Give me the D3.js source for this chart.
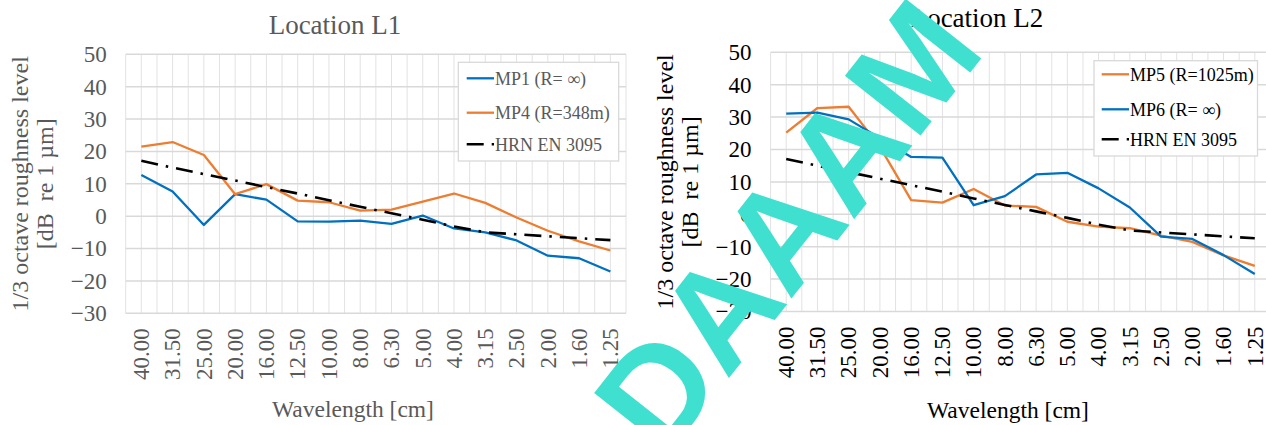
<!DOCTYPE html>
<html>
<head>
<meta charset="utf-8">
<script src="https://cdn.jsdelivr.net/npm/d3@7"></script>
<style>
  html, body { margin: 0; padding: 0; background: #fff; overflow: hidden; }
  svg { display: block; }
</style>
</head>
<body>
<svg id="fig" width="1266" height="425"></svg>
<script>
// One-third octave wavelength bands [cm]
const categories = ["40.00","31.50","25.00","20.00","16.00","12.50","10.00","8.00",
                    "6.30","5.00","4.00","3.15","2.50","2.00","1.60","1.25"];
const yTickValues = [50, 40, 30, 20, 10, 0, -10, -20, -30];

// Location L1 roughness levels [dB re 1 µm]
const mp1 = [12.7, 7.6, -2.7, 6.8, 5.1, -1.6, -1.7, -1.4, -2.4, 0.2, -3.8, -5.0, -7.5, -12.2, -13.0, -17.1];
const mp4 = [21.5, 22.9, 18.9, 6.8, 9.9, 4.8, 4.3, 1.7, 2.0, 4.5, 7.0, 4.1, -0.4, -4.5, -7.8, -10.6];

// Location L2 roughness levels [dB re 1 µm]
const mp5 = [25.2, 32.8, 33.2, 20.8, 4.4, 3.6, 7.8, 2.7, 2.3, -2.3, -3.8, -4.3, -6.6, -8.5, -12.7, -15.9];
const mp6 = [31.1, 31.4, 29.3, 23.5, 17.7, 17.5, 2.8, 5.6, 12.3, 12.8, 8.0, 2.1, -6.9, -7.6, -12.6, -18.4];

// Limit spectrum HRN EN 3095
const hrn = [17.1, 15.0, 13.0, 11.0, 9.0, 7.0, 4.9, 2.9, 0.9, -1.1, -3.2, -5.0, -5.6, -6.2, -6.8, -7.4];

const BLUE = "#0070C0", ORANGE = "#ED7D31", BLACK = "#000000";
const GRID = "#D9D9D9";
const SERIF = "'Liberation Serif', 'Times New Roman', serif";
const DASHDOT = "17,8,2.5,8";

const panels = [
  {
    title: "Location L1", textColor: "#595959",
    plot: { x0: 125.7, x1: 626, y0: 54.3, y1: 313.3 },
    titlePos: [335, 34], xTitlePos: [353, 417], yTitleX: [28, 52.5],
    series: [
      { name: "MP1 (R= \u221E)", values: mp1, color: BLUE },
      { name: "MP4 (R=348m)", values: mp4, color: ORANGE },
      { name: "HRN EN 3095", values: hrn, color: BLACK, dash: DASHDOT }
    ],
    legend: { x0: 458.3, x1: 618.7, y0: 62.3, y1: 161, rows: [78.3, 112.7, 144.3], line: [466.7, 494], textX: 495 }
  },
  {
    title: "Location L2", textColor: "#000000",
    plot: { x0: 770.6, x1: 1270.4, y0: 52.3, y1: 311.5 },
    titlePos: [977, 26.7], xTitlePos: [1008, 418], yTitleX: [673, 697.5],
    series: [
      { name: "MP5 (R=1025m)", values: mp5, color: ORANGE },
      { name: "MP6 (R= \u221E)", values: mp6, color: BLUE },
      { name: "HRN EN 3095", values: hrn, color: BLACK, dash: DASHDOT }
    ],
    legend: { x0: 1094, x1: 1257.5, y0: 60.7, y1: 156, rows: [74.3, 109.3, 139.3], line: [1101.7, 1129], textX: 1130 }
  }
];

const svg = d3.select("#fig");
svg.append("rect").attr("width", 1266).attr("height", 425).attr("fill", "#fff");

panels.forEach(p => {
  const g = svg.append("g");
  const x = d3.scaleBand().domain(categories).range([p.plot.x0, p.plot.x1]).paddingInner(0).paddingOuter(0);
  const y = d3.scaleLinear().domain([-30, 50]).range([p.plot.y1, p.plot.y0]);
  const cx = d => x(d) + x.bandwidth() / 2;

  // vertical gridlines at band edges and band centres
  const vLines = [];
  categories.forEach(c => { vLines.push(x(c)); vLines.push(cx(c)); });
  vLines.push(x(categories[categories.length - 1]) + x.bandwidth());
  g.append("g").selectAll("line").data(vLines).join("line")
    .attr("x1", d => d).attr("x2", d => d)
    .attr("y1", p.plot.y0).attr("y2", p.plot.y1)
    .attr("stroke", "#E2E2E2").attr("stroke-width", 1);

  // horizontal gridlines
  g.append("g").selectAll("line").data(yTickValues).join("line")
    .attr("x1", p.plot.x0).attr("x2", p.plot.x1)
    .attr("y1", d => y(d)).attr("y2", d => y(d))
    .attr("stroke", GRID).attr("stroke-width", 1.5);

  // y tick labels
  const yAxis = d3.axisLeft(y).tickValues(yTickValues).tickSize(0).tickPadding(19);
  const ya = g.append("g").attr("transform", `translate(${p.plot.x0},0)`).call(yAxis);
  ya.select(".domain").remove();
  ya.attr("font-family", SERIF);
  ya.selectAll("text").attr("font-family", SERIF).attr("font-size", 23).attr("fill", p.textColor);

  // x tick labels, rotated
  const xAxis = d3.axisBottom(x).tickSize(0).tickPadding(0);
  const xa = g.append("g").attr("transform", `translate(0,${p.plot.y1})`).call(xAxis);
  xa.select(".domain").remove();
  xa.attr("font-family", SERIF);
  xa.selectAll("text")
    .attr("font-family", SERIF).attr("font-size", 23).attr("fill", p.textColor)
    .attr("text-anchor", "end").attr("dy", null).attr("y", null)
    .attr("transform", "translate(7.8,15) rotate(-90)");

  // series lines
  const line = d3.line().x((v, i) => cx(categories[i])).y(v => y(v));
  p.series.forEach(s => {
    g.append("path").datum(s.values)
      .attr("d", line).attr("fill", "none")
      .attr("stroke", s.color).attr("stroke-width", s.dash ? 2.6 : 2.3)
      .attr("stroke-linejoin", "round")
      .attr("stroke-dasharray", s.dash || null);
  });

  // legend
  const L = p.legend;
  g.append("rect").attr("x", L.x0).attr("y", L.y0)
    .attr("width", L.x1 - L.x0).attr("height", L.y1 - L.y0)
    .attr("fill", "#fff").attr("stroke", GRID).attr("stroke-width", 1.3);
  p.series.forEach((s, i) => {
    g.append("line").attr("x1", L.line[0]).attr("x2", L.line[1])
      .attr("y1", L.rows[i]).attr("y2", L.rows[i])
      .attr("stroke", s.color).attr("stroke-width", s.dash ? 2.6 : 2.3)
      .attr("stroke-dasharray", s.dash || null);
    g.append("text").attr("x", L.textX).attr("y", L.rows[i]).attr("dy", "0.35em")
      .attr("font-family", SERIF).attr("font-size", 18).attr("fill", p.textColor)
      .text(s.name);
  });

  // titles
  g.append("text").attr("x", p.titlePos[0]).attr("y", p.titlePos[1])
    .attr("text-anchor", "middle").attr("font-family", SERIF).attr("font-size", 27)
    .attr("fill", p.textColor).text(p.title);
  g.append("text").attr("x", p.xTitlePos[0]).attr("y", p.xTitlePos[1])
    .attr("text-anchor", "middle").attr("font-family", SERIF).attr("font-size", 23.5)
    .attr("fill", p.textColor).text("Wavelength [cm]");
  const yMid = (p.plot.y0 + p.plot.y1) / 2;
  ["1/3 octave roughness level", "[dB\u00A0 re 1 \u00B5m]"].forEach((t, i) => {
    g.append("text")
      .attr("transform", `translate(${p.yTitleX[i]},${yMid}) rotate(-90)`)
      .attr("text-anchor", "middle").attr("font-family", SERIF).attr("font-size", 24)
      .attr("fill", p.textColor).text(t);
  });
});

// diagonal watermark across the figure
svg.append("text")
  .attr("transform", "translate(664,460) rotate(-51.7)")
  .attr("font-family", "'Liberation Sans', Arial, sans-serif")
  .attr("font-weight", "bold").attr("font-size", 140)
  .attr("fill", "#40E0D0")
  .text("DAAAM");
</script>
</body>
</html>
